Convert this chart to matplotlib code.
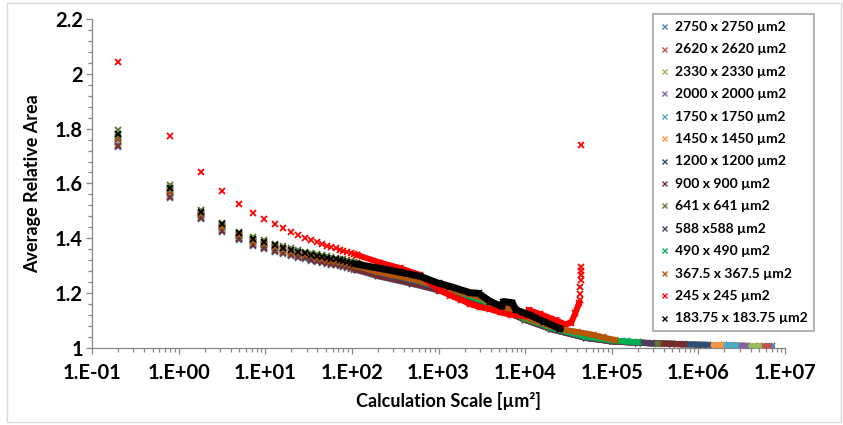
import math
import matplotlib
matplotlib.use("Agg")
import matplotlib.pyplot as plt
from matplotlib.lines import Line2D
from matplotlib.patches import Rectangle
from matplotlib.ticker import LogLocator, NullFormatter, MultipleLocator, FuncFormatter

plt.rcParams['font.family'] = ['Lato', 'DejaVu Sans']

# ---------------------------------------------------------------- data
labels = ["2750 x 2750 µm2", "2620 x 2620 µm2", "2330 x 2330 µm2", "2000 x 2000 µm2",
          "1750 x 1750 µm2", "1450 x 1450 µm2", "1200 x 1200 µm2", "900 x 900 µm2",
          "641 x 641 µm2", "588 x588 µm2", "490 x 490 µm2", "367.5 x 367.5 µm2",
          "245 x 245 µm2", "183.75 x 183.75 µm2"]

# calculation scales of the first (individually resolved) windows
scale_pts = [0.2, 0.8, 1.8, 3.2, 5.0, 7.2, 9.8, 12.8, 16.2, 20.0, 24.2, 28.8, 33.8, 39.2, 45.0, 51.2,
             57.8, 64.8, 72.2, 80.0, 88.2, 96.8, 105.8, 115.2]

y_2750_pts = [1.732, 1.547, 1.469, 1.424, 1.394, 1.372, 1.360, 1.349, 1.341, 1.334, 1.328, 1.323, 1.318, 1.314, 1.310, 1.306,
              1.303, 1.300, 1.297, 1.294, 1.291, 1.288, 1.285, 1.282]
y_2620_pts = [1.742, 1.554, 1.474, 1.429, 1.399, 1.377, 1.365, 1.354, 1.346, 1.339, 1.333, 1.327, 1.322, 1.318, 1.314, 1.310,
              1.307, 1.304, 1.301, 1.298, 1.295, 1.292, 1.289, 1.286]
y_2330_pts = [1.746, 1.557, 1.476, 1.431, 1.401, 1.379, 1.367, 1.356, 1.347, 1.340, 1.334, 1.329, 1.324, 1.320, 1.316, 1.312,
              1.309, 1.306, 1.303, 1.300, 1.297, 1.294, 1.291, 1.288]
y_2000_pts = [1.750, 1.560, 1.479, 1.433, 1.402, 1.381, 1.369, 1.358, 1.349, 1.342, 1.336, 1.331, 1.326, 1.322, 1.318, 1.314,
              1.311, 1.308, 1.305, 1.302, 1.299, 1.296, 1.293, 1.290]
y_1750_pts = [1.754, 1.563, 1.481, 1.435, 1.405, 1.384, 1.371, 1.360, 1.351, 1.344, 1.338, 1.333, 1.328, 1.324, 1.320, 1.316,
              1.313, 1.310, 1.307, 1.304, 1.301, 1.298, 1.295, 1.292]
y_1450_pts = [1.758, 1.566, 1.483, 1.437, 1.407, 1.386, 1.373, 1.362, 1.353, 1.346, 1.340, 1.335, 1.330, 1.326, 1.322, 1.318,
              1.315, 1.312, 1.309, 1.306, 1.303, 1.300, 1.297, 1.294]
y_1200_pts = [1.771, 1.576, 1.490, 1.444, 1.413, 1.392, 1.380, 1.368, 1.359, 1.352, 1.346, 1.340, 1.335, 1.331, 1.327, 1.323,
              1.320, 1.317, 1.314, 1.311, 1.308, 1.305, 1.302, 1.299]
y_900_pts = [1.738, 1.552, 1.472, 1.427, 1.397, 1.375, 1.363, 1.352, 1.344, 1.337, 1.331, 1.326, 1.321, 1.317, 1.313, 1.309,
             1.306, 1.303, 1.300, 1.297, 1.294, 1.291, 1.288, 1.285]
y_641_pts = [1.795, 1.593, 1.503, 1.456, 1.424, 1.405, 1.392, 1.380, 1.370, 1.363, 1.357, 1.351, 1.346, 1.342, 1.338, 1.334,
             1.331, 1.328, 1.325, 1.322, 1.319, 1.316, 1.313, 1.310]
y_588_pts = [1.762, 1.569, 1.485, 1.439, 1.408, 1.388, 1.375, 1.364, 1.355, 1.348, 1.342, 1.336, 1.331, 1.327, 1.323, 1.319,
             1.316, 1.313, 1.310, 1.307, 1.304, 1.301, 1.298, 1.295]
y_490_pts = [1.776, 1.579, 1.493, 1.446, 1.415, 1.395, 1.382, 1.371, 1.361, 1.354, 1.348, 1.343, 1.338, 1.334, 1.330, 1.326,
             1.323, 1.320, 1.317, 1.314, 1.311, 1.308, 1.305, 1.302]
y_367_pts = [1.767, 1.572, 1.488, 1.442, 1.410, 1.390, 1.378, 1.366, 1.357, 1.350, 1.344, 1.338, 1.333, 1.329, 1.325, 1.321,
             1.318, 1.315, 1.312, 1.309, 1.306, 1.303, 1.300, 1.297]
y_245_pts = [2.044, 1.774, 1.642, 1.571, 1.526, 1.493, 1.471, 1.452, 1.438, 1.424, 1.412, 1.402, 1.394, 1.386, 1.379, 1.372,
             1.367, 1.362, 1.357, 1.353, 1.349, 1.345, 1.341, 1.338]
y_183_pts = [1.782, 1.584, 1.496, 1.450, 1.418, 1.398, 1.386, 1.374, 1.364, 1.357, 1.351, 1.345, 1.340, 1.336, 1.332, 1.328,
             1.325, 1.322, 1.319, 1.316, 1.313, 1.310, 1.307, 1.304]

# larger scales, where neighbouring windows merge into a continuous band
x_2750_band = [115.2, 200, 500, 1e3, 2e3, 5e3, 1e4, 2e4, 5e4, 1e5, 2e5, 5e5, 1e6, 2e6, 5e6, 7.1e6]
y_2750_band = [1.282, 1.260, 1.232, 1.208, 1.182, 1.142, 1.100, 1.066, 1.035, 1.022, 1.017, 1.013, 1.010, 1.008, 1.005, 1.004]
x_2620_band = [115.2, 200, 500, 1e3, 2e3, 5e3, 1e4, 2e4, 5e4, 1e5, 2e5, 5e5, 1e6, 2e6, 5e6, 6.5e6]
y_2620_band = [1.286, 1.264, 1.236, 1.211, 1.185, 1.144, 1.102, 1.067, 1.036, 1.022, 1.017, 1.013, 1.010, 1.008, 1.005, 1.004]
x_2330_band = [115.2, 200, 500, 1e3, 2e3, 5e3, 1e4, 2e4, 5e4, 1e5, 2e5, 5e5, 1e6, 2e6, 5.0e6]
y_2330_band = [1.288, 1.265, 1.237, 1.212, 1.186, 1.145, 1.102, 1.068, 1.036, 1.023, 1.017, 1.013, 1.010, 1.008, 1.005]
x_2000_band = [115.2, 200, 500, 1e3, 2e3, 5e3, 1e4, 2e4, 5e4, 1e5, 2e5, 5e5, 1e6, 2e6, 3.5e6]
y_2000_band = [1.290, 1.267, 1.238, 1.214, 1.187, 1.146, 1.103, 1.068, 1.036, 1.023, 1.018, 1.013, 1.010, 1.008, 1.006]
x_1750_band = [115.2, 200, 500, 1e3, 2e3, 5e3, 1e4, 2e4, 5e4, 1e5, 2e5, 5e5, 1e6, 2e6, 2.7e6]
y_1750_band = [1.292, 1.268, 1.240, 1.215, 1.188, 1.147, 1.104, 1.068, 1.036, 1.023, 1.018, 1.013, 1.010, 1.008, 1.007]
x_1450_band = [115.2, 200, 500, 1e3, 2e3, 5e3, 1e4, 2e4, 5e4, 1e5, 2e5, 5e5, 1e6, 1.82e6]
y_1450_band = [1.294, 1.270, 1.241, 1.216, 1.190, 1.148, 1.104, 1.069, 1.037, 1.023, 1.018, 1.013, 1.010, 1.009]
x_1200_band = [115.2, 200, 500, 1e3, 2e3, 5e3, 1e4, 2e4, 5e4, 1e5, 2e5, 5e5, 1e6, 1.28e6]
y_1200_band = [1.299, 1.275, 1.246, 1.220, 1.193, 1.151, 1.106, 1.070, 1.038, 1.024, 1.018, 1.014, 1.010, 1.010]
x_900_band = [115.2, 200, 500, 1e3, 2e3, 5e3, 1e4, 2e4, 5e4, 1e5, 2e5, 5e5, 6.8e5]
y_900_band = [1.285, 1.262, 1.234, 1.210, 1.184, 1.143, 1.101, 1.067, 1.035, 1.022, 1.017, 1.013, 1.012]
x_641_band = [115.2, 200, 500, 1e3, 2e3, 5e3, 1e4, 2e4, 5e4, 1e5, 2e5, 3.4e5]
y_641_band = [1.310, 1.284, 1.254, 1.228, 1.200, 1.156, 1.110, 1.073, 1.039, 1.025, 1.019, 1.014]
x_588_band = [115.2, 200, 500, 1e3, 2e3, 5e3, 1e4, 2e4, 5e4, 1e5, 2e5, 2.9e5]
y_588_band = [1.295, 1.272, 1.243, 1.218, 1.191, 1.149, 1.105, 1.069, 1.037, 1.023, 1.018, 1.015]
x_490_band = [115.2, 200, 500, 1e3, 2e3, 5e3, 1e4, 2e4, 5e4, 1e5, 1.5e5, 2e5]
y_490_band = [1.302, 1.278, 1.250, 1.223, 1.194, 1.150, 1.106, 1.072, 1.040, 1.026, 1.022, 1.019]
x_367_band = [115.2, 200, 500, 1e3, 2e3, 3e3, 4e3, 5.4e3, 6e3, 7.5e3, 1e4, 2e4, 2.56e4, 4e4, 6e4, 8e4, 1.1e5]
y_367_band = [1.297, 1.276, 1.250, 1.225, 1.198, 1.185, 1.162, 1.148, 1.152, 1.135, 1.110, 1.077, 1.067, 1.057, 1.047, 1.037, 1.027]
x_245_band = [115.2, 214, 363, 617, 810, 1050, 1375, 1800, 2340, 3000, 3980, 5200, 6800,
              1.07e4, 1.1e4, 1.5e4, 2.25e4, 2.9e4, 3.4e4, 3.8e4, 4.2e4]
y_245_band = [1.338, 1.310, 1.290, 1.265, 1.235, 1.208, 1.190, 1.175, 1.158, 1.148, 1.140, 1.128, 1.120,
              1.115, 1.137, 1.122, 1.100, 1.085, 1.090, 1.126, 1.163]
x_245_spike = [4.30e4, 4.32e4, 4.34e4, 4.36e4, 4.38e4, 4.40e4, 4.42e4, 4.44e4]
y_245_spike = [1.172, 1.195, 1.223, 1.245, 1.265, 1.280, 1.294, 1.739]
x_183_band = [115.2, 214, 363, 617, 1e3, 1375, 2340, 2900, 3980, 5400, 5600, 7100, 7800, 1.14e4, 1.67e4, 2.56e4]
y_183_band = [1.304, 1.289, 1.275, 1.260, 1.235, 1.223, 1.200, 1.198, 1.168, 1.150, 1.168, 1.164, 1.138, 1.118, 1.094, 1.068]

x_ticks = [1e-1, 1e0, 1e1, 1e2, 1e3, 1e4, 1e5, 1e6, 1e7]
y_ticks = [1.0, 1.2, 1.4, 1.6, 1.8, 2.0, 2.2]

# ---------------------------------------------------------------- styles
colors = ["#4F81BD", "#C0504D", "#9BBB59", "#8064A2", "#4BACC6", "#F79646", "#2C4D75",
          "#772C2A", "#5F7530", "#4D3B62", "#00B050", "#B65708", "#FF0000", "#000000"]

series = [
    (y_2750_pts, x_2750_band, y_2750_band),
    (y_2620_pts, x_2620_band, y_2620_band),
    (y_2330_pts, x_2330_band, y_2330_band),
    (y_2000_pts, x_2000_band, y_2000_band),
    (y_1750_pts, x_1750_band, y_1750_band),
    (y_1450_pts, x_1450_band, y_1450_band),
    (y_1200_pts, x_1200_band, y_1200_band),
    (y_900_pts, x_900_band, y_900_band),
    (y_641_pts, x_641_band, y_641_band),
    (y_588_pts, x_588_band, y_588_band),
    (y_490_pts, x_490_band, y_490_band),
    (y_367_pts, x_367_band, y_367_band),
    (y_245_pts, x_245_band, y_245_band),
    (y_183_pts, x_183_band, y_183_band),
]

W, H = 843, 425
fig = plt.figure(figsize=(W / 100, H / 100), dpi=100)
fig.patches.append(Rectangle((7 / W, 3 / H), 834 / W, 419 / H, transform=fig.transFigure,
                             fill=False, edgecolor="#D9D9D9", lw=1.0))

ax = fig.add_axes([92 / W, 1 - 347.5 / H, 693 / W, 328.2 / H])
ax.set_xscale("log")

MS, MEW, BAND_LW = 4.6, 1.3, 4.3
for i, ((y_pts, x_band, y_band), c) in enumerate(zip(series, colors)):
    z = 2 + i
    ax.plot(scale_pts, y_pts, ls="none", marker="x", ms=MS, mew=MEW, color=c, zorder=z)
    lw = 5.0 if c == "#000000" else BAND_LW
    ax.plot(x_band, y_band, ls="-", lw=lw, color=c, solid_capstyle="round",
            solid_joinstyle="round", marker="x", ms=MS, mew=MEW, zorder=z)
ax.plot(x_245_spike, y_245_spike, ls="none", marker="x", ms=MS, mew=MEW, color="#FF0000", zorder=14)

# axes
ax.set_xlim(1e-1, 1e7)
ax.set_ylim(1.0, 2.2)
ax.set_xticks(x_ticks)
ax.xaxis.set_major_formatter(FuncFormatter(lambda v, p: "1.E%+03d" % round(math.log10(v))))
ax.xaxis.set_minor_locator(LogLocator(base=10, subs=range(2, 10), numticks=20))
ax.xaxis.set_minor_formatter(NullFormatter())
ax.set_yticks(y_ticks)
ax.yaxis.set_major_formatter(FuncFormatter(lambda v, p: "%g" % round(v, 2)))
ax.yaxis.set_minor_locator(MultipleLocator(0.04))

axis_gray = "#868686"
for s in ("top", "right"):
    ax.spines[s].set_visible(False)
for s in ("left", "bottom"):
    ax.spines[s].set_color(axis_gray)
    ax.spines[s].set_linewidth(0.9)
ax.tick_params(which="both", direction="out", color=axis_gray, width=0.9)
ax.tick_params(which="major", length=4.0, labelsize=14.5)
ax.tick_params(which="minor", length=3.0)
ax.tick_params(axis="x", which="major", pad=7.0)
ax.tick_params(axis="y", which="major", pad=2.5)
for t in ax.get_xticklabels() + ax.get_yticklabels():
    t.set_fontweight("bold")

ax.set_xlabel("Calculation Scale [µm²]", fontsize=13, fontweight="bold")
ax.set_ylabel("Average Relative Area", fontsize=13, fontweight="bold")
ax.xaxis.set_label_coords((449 - 92) / 693, (347.5 - 401) / 328.2)
ax.xaxis.label.set_va("center")
ax.yaxis.set_label_coords((33 - 92) / 693, 0.5)
ax.yaxis.label.set_va("center")

handles = [Line2D([], [], ls="none", marker="x", ms=3.6, mew=1.0, color=c) for c in colors]
leg = fig.legend(handles, labels, loc="upper left", bbox_to_anchor=(653 / W, 1 - 14 / H),
                 frameon=True, fancybox=False, edgecolor="#A6A6A6", framealpha=1,
                 prop={"family": "Lato", "weight": "bold", "size": 10},
                 handlelength=0.6, handletextpad=0.45, borderpad=0.5, labelspacing=0.75,
                 borderaxespad=0)
leg.get_frame().set_linewidth(1.2)

fig.savefig("out.png", dpi=100)
